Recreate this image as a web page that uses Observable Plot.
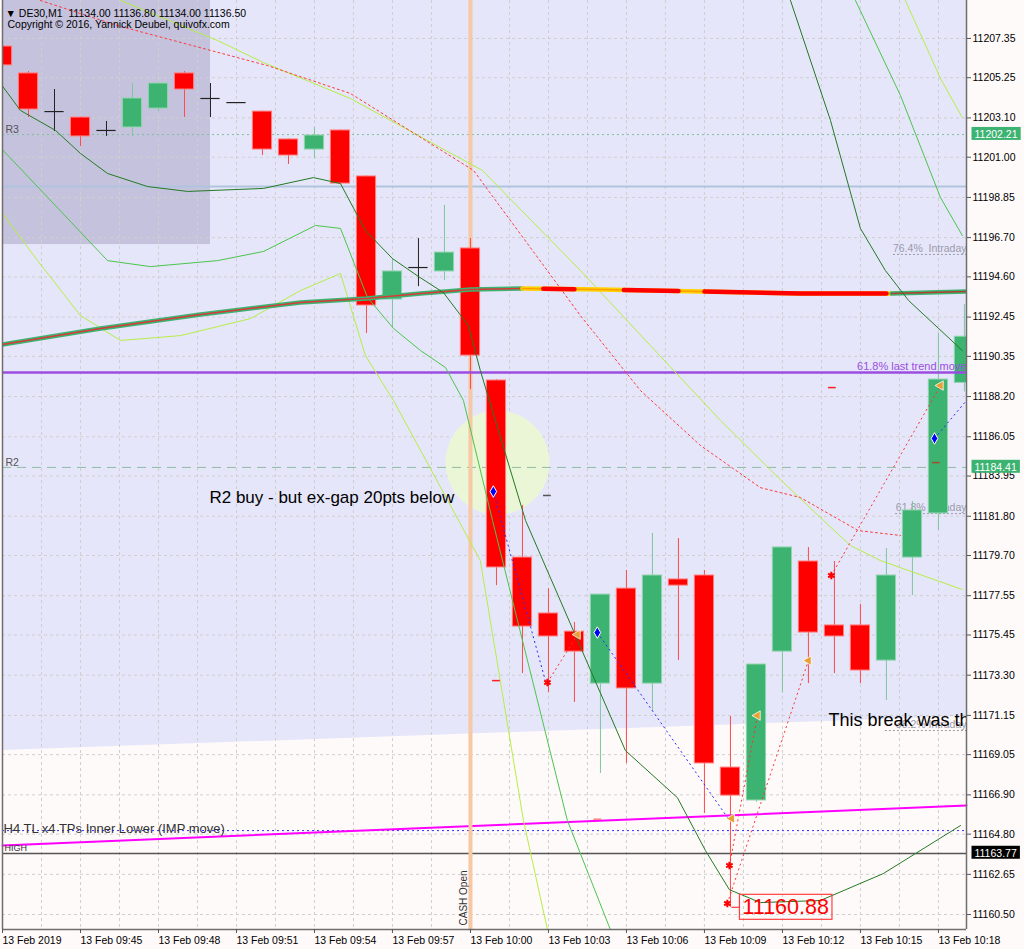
<!DOCTYPE html>
<html><head><meta charset="utf-8">
<script src="https://cdn.jsdelivr.net/npm/d3@7"></script>
<script src="https://cdn.jsdelivr.net/npm/@observablehq/plot@0.6"></script>
<style>
html,body{margin:0;padding:0;background:#fffafa;}
#chart{width:1024px;height:949px;overflow:hidden;}
</style></head><body><div id="chart"></div>
<script>
// ---------- DATA ----------
const headerLine1 = "\u25BC DE30,M1  11134.00 11136.80 11134.00 11136.50";
const headerLine2 = "Copyright \u00A9 2016, Yannick Deubel, quivofx.com";

const timeLabels = ["13 Feb 2019","13 Feb 09:45","13 Feb 09:48","13 Feb 09:51","13 Feb 09:54","13 Feb 09:57","13 Feb 10:00","13 Feb 10:03","13 Feb 10:06","13 Feb 10:09","13 Feb 10:12","13 Feb 10:15","13 Feb 10:18"];
const tickMinutes = [0,3,6,9,12,15,18,21,24,27,30,33,36]; // minutes since 09:42
const yTicks = [11207.35,11205.25,11203.10,11201.00,11198.85,11196.70,11194.60,11192.45,11190.35,11188.20,11186.05,11183.95,11181.80,11179.70,11177.55,11175.45,11173.30,11171.15,11169.05,11166.90,11164.80,11162.65,11160.50];

const candleMinute = [0,1,2,3,4,5,6,7,8,9,10,11,12,13,14,15,16,17,18,19,20,21,22,23,24,25,26,27,28,29,30,31,32,33,34,35,36,37];
const candleOpen  = [11206.92,11205.48,11203.44,11203.12,11202.43,11202.59,11203.60,11205.48,11204.14,11203.92,11203.44,11201.95,11201.41,11202.43,11199.97,11193.39,11195.10,11194.89,11196.12,11189.06,11179.59,11176.60,11175.63,11172.85,11177.93,11172.85,11178.42,11178.63,11168.36,11166.60,11174.56,11179.38,11175.96,11175.96,11174.08,11179.59,11181.95,11188.93];
const candleHigh  = [11207.05,11205.58,11204.62,11203.15,11202.91,11204.94,11204.96,11205.58,11204.94,11203.92,11203.46,11201.97,11202.59,11202.45,11200.00,11195.58,11196.65,11198.42,11196.65,11189.10,11182.37,11177.93,11176.12,11177.61,11178.90,11180.88,11180.61,11178.90,11171.09,11173.87,11180.13,11180.13,11179.38,11177.08,11180.07,11182.59,11191.57,11193.12];
const candleLow   = [11205.59,11203.12,11202.37,11201.57,11202.11,11202.11,11203.44,11203.12,11203.12,11203.92,11201.09,11200.61,11200.93,11199.57,11191.57,11191.89,11194.08,11194.40,11188.58,11178.09,11173.39,11172.37,11171.84,11168.04,11168.58,11171.36,11174.08,11165.90,11160.88,11166.50,11172.37,11172.85,11173.39,11172.85,11171.95,11177.56,11181.04,11188.45];
const candleClose = [11205.91,11203.55,11203.44,11202.11,11202.43,11204.14,11204.94,11204.62,11204.14,11203.92,11201.41,11201.09,11202.16,11199.59,11193.07,11194.89,11195.10,11195.90,11190.39,11179.06,11175.90,11175.37,11174.56,11177.61,11172.59,11178.63,11178.09,11168.58,11166.86,11173.87,11180.13,11175.58,11175.37,11173.55,11178.63,11182.11,11189.11,11191.40];

// indicator lines: [minute, price]
const maThick = [[0,11190.98],[3.77,11191.84],[7.62,11192.59],[11.46,11193.23],[14.0,11193.44],[16.08,11193.71],[18.0,11193.92],[19.92,11193.98],[23.0,11193.92],[26.85,11193.82],[30.69,11193.71],[34.15,11193.71],[37.08,11193.82]];
const darkBandLower = [[0,11204.80],[0.69,11203.50],[2.04,11202.43],[3.0,11201.20],[4.04,11200.13],[5.58,11199.43],[7.12,11199.17],[10.04,11199.33],[11.96,11199.91],[13.0,11199.59],[13.96,11197.08],[15.0,11195.58],[16.0,11194.62],[16.96,11193.76],[17.92,11192.00],[18.38,11189.59],[20.12,11181.57],[23.96,11169.27],[25.96,11166.75],[27.04,11163.92],[27.96,11161.83],[29.15,11161.14],[31.46,11161.25],[33.88,11162.69],[36.85,11165.26]];
const darkBandUpper = [[30.31,11209.38],[31.85,11202.96],[33.0,11197.19],[33.96,11194.94],[34.85,11193.34],[36.92,11190.66]];
const greenBandLower = [[0,11201.40],[4.04,11195.47],[5.69,11195.15],[8.27,11195.47],[10.04,11195.96],[12.04,11197.35],[13.0,11197.19],[14.04,11193.50],[15.04,11191.84],[16.08,11190.66],[17.04,11189.75],[17.73,11187.99],[18.85,11181.57],[21.73,11165.52],[23.38,11159.70]];
const greenBandUpper = [[32.81,11209.38],[34.54,11204.30],[36.08,11198.84],[36.92,11196.81]];
const limeBandA = [[4.54,11209.38],[8.27,11207.24],[10.04,11206.06],[13.38,11204.14],[18.46,11200.29],[22.23,11194.94],[24.92,11190.93],[27.62,11186.92],[29.92,11183.76],[31.58,11181.57],[32.62,11180.23],[33.77,11179.43],[36.92,11177.88]];
const limeBandB = [[0,11198.00],[1.35,11195.47],[3.0,11192.53],[4.54,11191.20],[6.85,11191.46],[9.54,11192.37],[11.46,11193.87],[13.0,11194.78],[13.96,11190.39],[15.04,11187.99],[18.38,11179.43],[20.04,11165.52],[20.96,11159.70]];
const limeBandC = [[34.73,11209.38],[36.08,11205.21],[36.92,11203.12]];
const redDotted = [[1.46,11209.38],[4.42,11208.04],[6.58,11207.24],[10.19,11205.90],[13.38,11204.41],[18.12,11200.29],[22.23,11192.53],[24.54,11188.52],[26.85,11185.58],[29.15,11183.33],[30.69,11182.80],[32.92,11181.03],[34.54,11180.77]];

// levels
const levelR3 = 11202.21, levelR2 = 11184.41, levelBlue = 11199.43, level618 = 11189.49;
const levelBlueDot = 11164.99, levelClose = 11163.77;
const trendLineH4 = [[0,11164.19],[37.08,11166.33]];
const lavenderEdge = [[0,11169.27],[37.08,11171.09]];
const shadedBox = {start:0, end:8, low:11196.33};
const intradayLevels = [{label:"76.4%  Intraday", from:34.27, p:11195.80},{label:"61.8% Intraday", from:34.35, p:11181.94},{label:"38.2% Intraday", from:33.96, p:11170.34}];
const cashOpenMinute = 18;
const circleSpot = {t:19.04, p:11184.67};
const lowLabel = {t:28, p:11160.88};

// trades
const tradeLines = [
  {t1:18.88,p1:11183.12,t2:20.88,p2:11173.01,c:"blue"},
  {t1:20.96,p1:11172.91,t2:22.12,p2:11175.47,c:"red"},
  {t1:22.88,p1:11175.58,t2:27.92,p2:11165.63,c:"blue"},
  {t1:27.96,p1:11163.12,t2:29.04,p2:11171.14,c:"red"},
  {t1:27.88,p1:11161.09,t2:31.0,p2:11174.08,c:"red"},
  {t1:31.88,p1:11178.63,t2:36.08,p2:11188.79,c:"red"},
  {t1:35.85,p1:11185.96,t2:37.08,p2:11187.99,c:"blue"}
];
const entryMarks = [[18.88,11183.12],[22.88,11175.58],[35.85,11185.96]];
const stopMarks = [[20.96,11172.91],[27.96,11163.12],[27.88,11161.09],[31.88,11178.63]];
const exitMarks = [[22.12,11175.47],[29.04,11171.14],[31.0,11174.08],[36.08,11188.79],[28.05,11165.63]];
const smallDashes = [[19.0,11173.01,"#ff2020"],[20.96,11182.91,"#555"],[31.92,11188.68,"#ff2020"],[35.92,11184.67,"#a05030"],[22.9,11165.6,"#ff8080"]];

// ---------- BUILD ----------
const T_MAX = 37.08, P_MIN = 11159.70, P_MAX = 11209.38;
const FONT = "'Liberation Sans', Arial, sans-serif";
const pts = a => a.map(([t,p]) => ({t,p}));
const candles = candleMinute.map((t,k)=>({t,o:candleOpen[k],h:candleHigh[k],l:candleLow[k],c:candleClose[k]}));
const up = candles.filter(d=>d.c>d.o), down = candles.filter(d=>d.c<d.o), flat = candles.filter(d=>d.c===d.o);
const HALF = 0.37;
function segment(a, t0, t1){
  const P = pts(a); const out=[];
  const at = t => { for(let k=1;k<P.length;k++){ if(t<=P[k].t){const u=(t-P[k-1].t)/(P[k].t-P[k-1].t);return {t,p:P[k-1].p+u*(P[k].p-P[k-1].p)};} } return P[P.length-1]; };
  out.push(at(t0)); P.forEach(d=>{ if(d.t>t0&&d.t<t1) out.push(d); }); out.push(at(t1)); return out;
}
const maSegs = [
  {t0:0,t1:20.0,base:"#3cb371",top:"#d83a3a",tw:1.5},
  {t0:20.0,t1:34.2,base:"#ffd200",top:"#ffa000",tw:1.5},
  {t0:20.8,t1:22.0,base:"#ff0000",top:"#ff0000",tw:0},
  {t0:23.9,t1:26.0,base:"#ff0000",top:"#ff0000",tw:0},
  {t0:27.0,t1:34.0,base:"#ff0000",top:"#ff0000",tw:0},
  {t0:34.2,t1:37.08,base:"#3cb371",top:"#b04030",tw:1.5}
];
const maMarks = [];
maSegs.forEach(s=>{
  const d = segment(maThick, s.t0, s.t1);
  maMarks.push(Plot.line(d,{x:"t",y:"p",stroke:s.base,strokeWidth:4.5,clip:true}));
  if(s.tw>0) maMarks.push(Plot.line(d,{x:"t",y:"p",stroke:s.top,strokeWidth:s.tw,clip:true}));
});

const plot = Plot.plot({
  width:1024, height:949, marginLeft:2, marginRight:58, marginTop:0, marginBottom:20,
  style:{background:"#fffafa", fontFamily:FONT, fontSize:"10.5px", color:"#000", overflow:"visible"},
  x:{domain:[0,T_MAX], axis:null},
  y:{domain:[P_MIN,P_MAX], axis:null},
  marks:[
    Plot.areaY(pts(lavenderEdge), {x:"t", y1:"p", y2:P_MAX, fill:"#e6e6fa"}),
    Plot.rect([shadedBox], {x1:"start", x2:"end", y1:"low", y2:P_MAX, fill:"#c5c2de"}),
    // grid
    Plot.ruleY(yTicks, {stroke:"#cfcfcf", strokeDasharray:"3,3"}),
    Plot.ruleX(d3.range(0, T_MAX, 1.5), {stroke:"#cfcfcf", strokeDasharray:"3,3"}),
    // circle
    Plot.dot([circleSpot], {x:"t", y:"p", r:52, fill:"#eaf6d6", stroke:"none"}),
    // levels
    Plot.ruleY([levelBlue], {stroke:"#b0c4de", strokeWidth:2}),
    Plot.ruleY([levelR3], {stroke:"#7fbf9a", strokeDasharray:"2,3"}),
    Plot.ruleY([levelR2], {stroke:"#8fbca0", strokeDasharray:"9,6"}),
    Plot.ruleY([levelBlueDot], {stroke:"#3030ff", strokeDasharray:"2,3"}),
    Plot.ruleY([levelClose], {stroke:"#555", strokeWidth:1.5}),
    Plot.ruleY(intradayLevels, {y:"p", x1:"from", x2:T_MAX, stroke:"#9a9aaa", strokeDasharray:"2,2"}),
    Plot.text(intradayLevels, {x:T_MAX, y:"p", text:"label", textAnchor:"end", dy:-6, fill:"#9a9aaa", fontSize:10.5}),
    Plot.line(pts(trendLineH4), {x:"t", y:"p", stroke:"#ff00ff", strokeWidth:2}),
    Plot.ruleX([cashOpenMinute], {stroke:"#f6c8a4", strokeWidth:4}),
    // candles
    Plot.ruleX(up, {x:"t", y1:"l", y2:"h", stroke:"#7cc79c", clip:true}),
    Plot.ruleX(down, {x:"t", y1:"l", y2:"h", stroke:"#ff4a4a", clip:true}),
    Plot.ruleX(flat, {x:"t", y1:"l", y2:"h", stroke:"#222", clip:true}),
    Plot.rect(up, {x1:d=>d.t-HALF, x2:d=>d.t+HALF, y1:"o", y2:"c", fill:"#3cb371", stroke:"#92d4ae", clip:true}),
    Plot.rect(down, {x1:d=>d.t-HALF, x2:d=>d.t+HALF, y1:"o", y2:"c", fill:"#ff0000", stroke:"#ff8080", clip:true}),
    Plot.ruleY(flat, {y:"o", x1:d=>d.t-HALF, x2:d=>d.t+HALF, stroke:"#222", strokeWidth:1.2, clip:true}),
    // purple level
    Plot.ruleY([level618], {stroke:"#9b4de0", strokeWidth:2.5}),
    Plot.text([{t:T_MAX,p:level618,s:"61.8% last trend move"}], {x:"t", y:"p", text:"s", textAnchor:"end", dy:-6, fill:"#9b4de0", fontSize:11}),
    // indicators
    Plot.line(pts(limeBandA), {x:"t", y:"p", stroke:"#b6ee44", strokeWidth:1, clip:true}),
    Plot.line(pts(limeBandB), {x:"t", y:"p", stroke:"#b6ee44", strokeWidth:1, clip:true}),
    Plot.line(pts(limeBandC), {x:"t", y:"p", stroke:"#b6ee44", strokeWidth:1, clip:true}),
    Plot.line(pts(greenBandLower), {x:"t", y:"p", stroke:"#4cc44c", strokeWidth:1, clip:true}),
    Plot.line(pts(greenBandUpper), {x:"t", y:"p", stroke:"#4cc44c", strokeWidth:1, clip:true}),
    Plot.line(pts(redDotted), {x:"t", y:"p", stroke:"#ff3b3b", strokeWidth:1, strokeDasharray:"2,3", clip:true}),
    ...maMarks,
    Plot.line(pts(darkBandLower), {x:"t", y:"p", stroke:"#237a23", strokeWidth:1, clip:true}),
    Plot.line(pts(darkBandUpper), {x:"t", y:"p", stroke:"#237a23", strokeWidth:1, clip:true}),
    // trades
    Plot.link(tradeLines.filter(d=>d.c==="blue"), {x1:"t1", y1:"p1", x2:"t2", y2:"p2", stroke:"#2a2aff", strokeDasharray:"2,3", clip:true}),
    Plot.link(tradeLines.filter(d=>d.c==="red"), {x1:"t1", y1:"p1", x2:"t2", y2:"p2", stroke:"#ff3030", strokeDasharray:"2,3", clip:true}),
    Plot.ruleY(smallDashes, {y:d=>d[1], x1:d=>d[0]-0.15, x2:d=>d[0]+0.15, stroke:d=>d[2], strokeWidth:1.5}),
    Plot.dot(pts(entryMarks), {x:"t", y:"p", symbol:"diamond", r:3.5, fill:"#0000ff", stroke:"white", strokeWidth:1}),
    Plot.dot(pts(stopMarks), {x:"t", y:"p", symbol:"asterisk", r:3.5, stroke:"#ff0000", strokeWidth:2}),
    Plot.dot(pts(exitMarks), {x:"t", y:"p", symbol:"triangle", rotate:-90, r:3.5, fill:"#e8a030", stroke:"white", strokeWidth:0.8}),
    // texts
    Plot.text([levelR3], {frameAnchor:"left", y:d=>d, text:()=>"R3", dx:3, dy:-5, textAnchor:"start", fill:"#555", fontSize:10.5}),
    Plot.text([levelR2], {frameAnchor:"left", y:d=>d, text:()=>"R2", dx:3, dy:-5, textAnchor:"start", fill:"#555", fontSize:10.5}),
    Plot.text([{t:7.96,p:11182.80,s:"R2 buy - but ex-gap 20pts below"}], {x:"t", y:"p", text:"s", textAnchor:"start", fontSize:17, fill:"#000"}),
    Plot.text([{t:31.77,p:11170.87,s:"This break was th"}], {x:"t", y:"p", text:"s", textAnchor:"start", fontSize:18, fill:"#000", clip:true}),
    Plot.text([trendLineH4[0]], {x:d=>d[0], y:d=>d[1], text:()=>"H4 TL x4 TPs Inner Lower (IMP move)", dx:1, dy:-17, textAnchor:"start", fontSize:13, fill:"#333"}),
    Plot.text([trendLineH4[0]], {x:d=>d[0], y:d=>d[1], text:()=>"HIGH", dx:2, dy:3, textAnchor:"start", fontSize:9, fill:"#333"}),
    Plot.text([{t:cashOpenMinute,p:P_MIN}], {x:"t", y:"p", text:()=>"CASH Open", rotate:-90, textAnchor:"start", dx:-7, dy:-4, fontSize:10, fill:"#333"}),
    Plot.text([lowLabel], {x:"t", y:"p", text:d=>d.p.toFixed(2), textAnchor:"start", dx:12, fontSize:21.5, fill:"#ff0000"}),
    // header
    Plot.text([headerLine1], {frameAnchor:"top-left", text:d=>d, dx:3, dy:9, textAnchor:"start", fontSize:10.5}),
    Plot.text([headerLine2], {frameAnchor:"top-left", text:d=>d, dx:5, dy:20, textAnchor:"start", fontSize:10.5}),
    // frame
    Plot.ruleX([0], {stroke:"#6e6e6e", strokeWidth:1.5}),
    Plot.ruleX([T_MAX], {stroke:"#6e6e6e", strokeWidth:1.5}),
    Plot.ruleY([P_MIN], {stroke:"#6e6e6e", strokeWidth:1.5}),
    // axes
    Plot.axisY(yTicks, {anchor:"right", tickSize:4, tickPadding:2, tickFormat:d=>d.toFixed(2), fontSize:10.5, stroke:"#555"}),
    Plot.axisX(tickMinutes, {anchor:"bottom", tickSize:4, tickPadding:3, tickFormat:d=>timeLabels[tickMinutes.indexOf(d)], textAnchor:"start", fontSize:10.5, stroke:"#555"}),
    // price tags
    Plot.text([levelR3, levelR2, levelClose], {frameAnchor:"right", y:d=>d, text:d=>d.toFixed(2), dx:8, textAnchor:"start", fill:"white", fontSize:10.5})
  ]
});
document.getElementById("chart").appendChild(plot);

// boxes behind tag texts (found by their text)
const svg = d3.select(plot);
function boxFor(str, fill, stroke, link){
  svg.selectAll("text").filter(function(){ return this.textContent === str; }).each(function(){
    const node = this;
    const bb = node.getBBox();
    const tr = node.getAttribute("transform");
    const parent = d3.select(node.parentNode);
    const r = parent.insert("rect", () => node)
      .attr("x", bb.x-3).attr("y", bb.y-1).attr("width", bb.width+6).attr("height", bb.height+1)
      .attr("fill", fill).attr("stroke", stroke).attr("stroke-width", 1.2);
    if (tr) r.attr("transform", tr);
    if (link) {
      const l = parent.insert("line", () => node)
        .attr("x1", bb.x-3-link).attr("x2", bb.x-3)
        .attr("y1", bb.y+bb.height/2).attr("y2", bb.y+bb.height/2)
        .attr("stroke", stroke).attr("stroke-width", 1.2);
      if (tr) l.attr("transform", tr);
    }
  });
}
boxFor(levelR3.toFixed(2), "#3cb371", "none");
boxFor(levelR2.toFixed(2), "#3cb371", "none");
boxFor(levelClose.toFixed(2), "#000", "none");
boxFor(lowLabel.p.toFixed(2), "none", "#ff4040", 8);
</script></body></html>
